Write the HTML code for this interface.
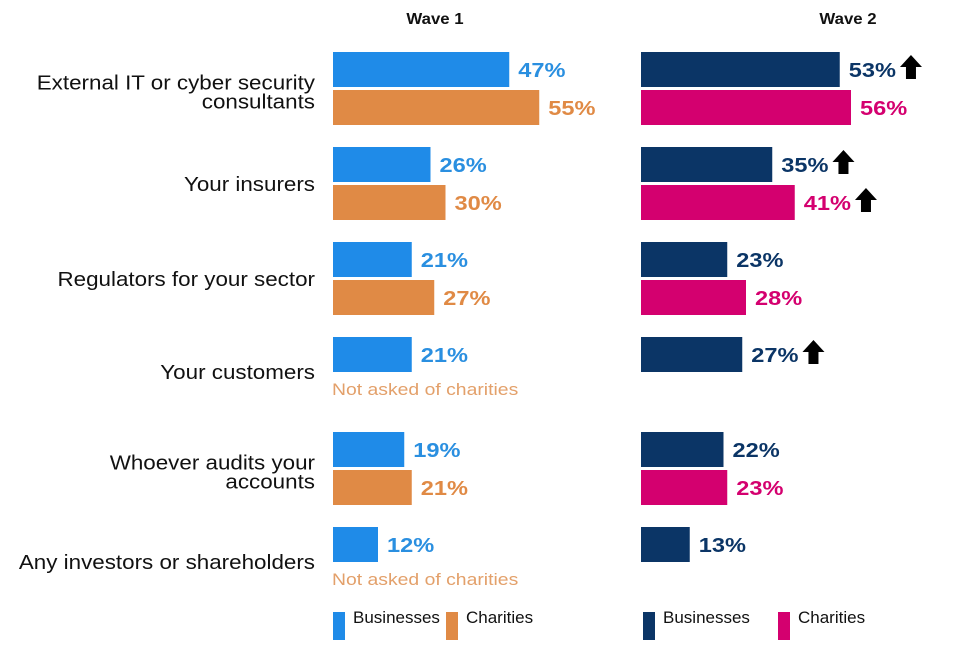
<!DOCTYPE html>
<html><head><meta charset="utf-8"><style>
body{margin:0;background:#fff;width:960px;height:640px;overflow:hidden;font-family:"Liberation Sans",Arial,sans-serif}
</style></head><body>
<svg id="chart" width="960" height="640" xmlns="http://www.w3.org/2000/svg" font-family="Liberation Sans, Arial, sans-serif"></svg>
<script>
const categories=[["External IT or cyber security","consultants"],["Your insurers"],["Regulators for your sector"],["Your customers"],["Whoever audits your","accounts"],["Any investors or shareholders"]];
const w1Bus=[47,26,21,21,19,12];
const w1Cha=[55,30,27,null,21,null];
const w2Bus=[53,35,23,27,22,13];
const w2Cha=[56,41,28,null,23,null];
const w2BusUp=[true,true,false,true,false,false];
const w2ChaUp=[false,true,false,false,false,false];
const waves=["Wave 1","Wave 2"];
const svg=document.getElementById('chart');
const NS="http://www.w3.org/2000/svg";
const pxPer=3.75;
const x1=v=>333+v*pxPer, x2=v=>641+v*pxPer;
const gy=i=>52+i*95;
function mk(tag,attrs,txt){const e=document.createElementNS(NS,tag);for(const k in attrs)e.setAttribute(k,attrs[k]);if(txt!=null)e.textContent=txt;svg.appendChild(e);return e;}
function stext(x,y,sx,attrs,txt){attrs.x=0;attrs.y=0;attrs.transform=`translate(${x},${y}) scale(${sx},1)`;return mk('text',attrs,txt);}
const hx=[435,848];
waves.forEach((w,i)=>{const t=stext(hx[i],24,1.05,{'text-anchor':'middle','font-size':16,'font-weight':'bold',fill:'#111'},w);

});
function arrow(x,yc,name){const p=mk('path',{d:`M${x+10} ${yc-13} L${x+21} ${yc-1} L${x+15} ${yc-1} L${x+15} ${yc+11} L${x+5} ${yc+11} L${x+5} ${yc-1} L${x-1} ${yc-1} Z`,fill:'#000'});

}
function bar(xf,v,y,color,lc,name,up){
 const r=mk('rect',{x:xf(0),y:y,width:xf(v)-xf(0),height:35,fill:color});
 
 
 const sx=1.18;
 const t=stext(xf(v)+9,y+25,sx,{'font-size':20,'font-weight':'bold',fill:lc},v+'%');
 
 
 if(up){arrow(xf(v)+9+t.getComputedTextLength()*sx+5,y+16,name+'-up-arrow');}
}
categories.forEach((c,i)=>{
 const y=gy(i);
 const hasCha=w1Cha[i]!=null;
 const mid=hasCha?y+37:y+35;
 const lines=c.length;
 c.forEach((l,j)=>{const t=stext(315,mid+7+(j-(lines-1)/2)*19+(lines>1?3:0),1.12,{'text-anchor':'end','font-size':20,fill:'#111'},l);
 
 });
 bar(x1,w1Bus[i],y,'#1f8be8','#2a8fe0','wave1-businesses-bar-'+i,false);
 bar(x2,w2Bus[i],y,'#0b3566','#0b3566','wave2-businesses-bar-'+i,w2BusUp[i]);
 if(hasCha){
  bar(x1,w1Cha[i],y+38,'#e08a45','#e08a45','wave1-charities-bar-'+i,false);
  bar(x2,w2Cha[i],y+38,'#d4006f','#d4006f','wave2-charities-bar-'+i,w2ChaUp[i]);
 } else {
  const t=stext(332,y+58,1.14,{'font-size':17,fill:'#e3a06a'},'Not asked of charities');
  
  
 }
});
const legend=[[333,'#1f8be8','Businesses'],[446,'#e08a45','Charities'],[643,'#0b3566','Businesses'],[778,'#d4006f','Charities']];
legend.forEach((l,i)=>{const r=mk('rect',{x:l[0],y:612,width:12,height:30,fill:l[1]});


const t=stext(l[0]+20,623,1.0,{'font-size':17,fill:'#111'},l[2]);

});
</script>
</body></html>
